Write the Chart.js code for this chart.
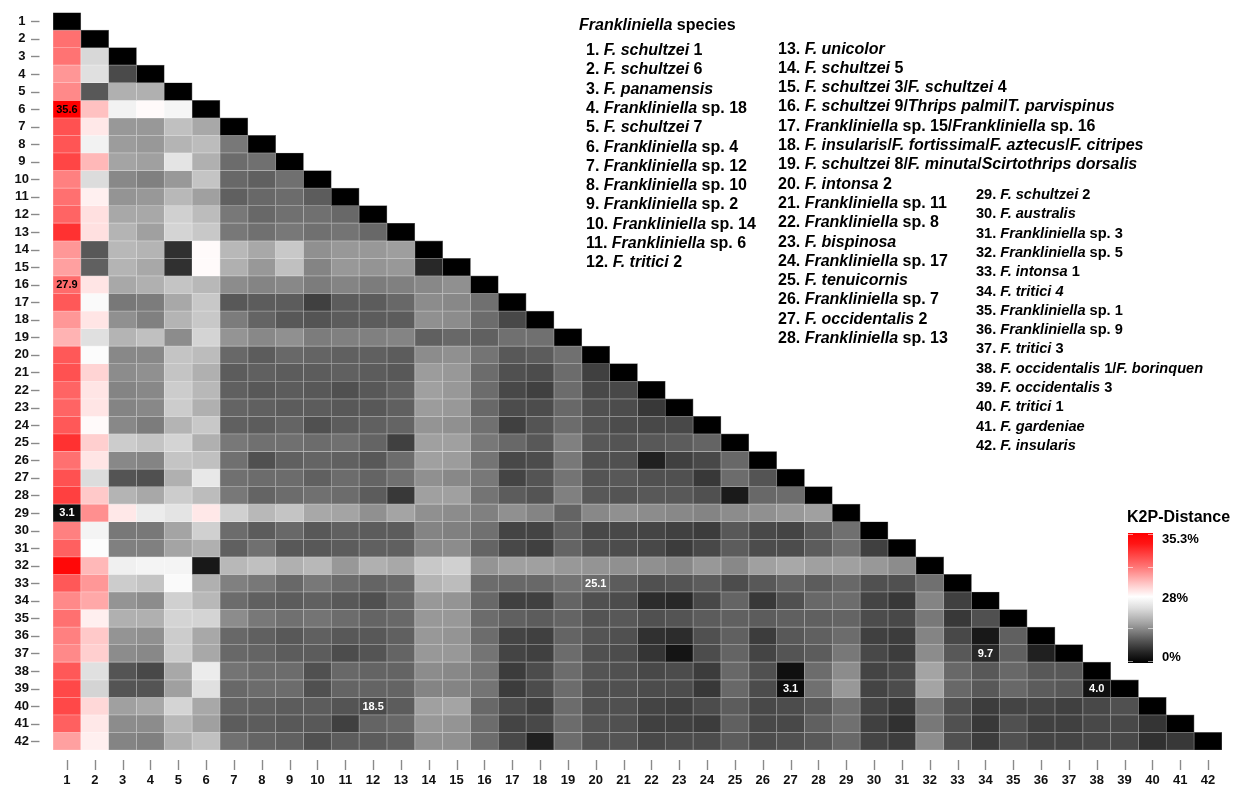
<!DOCTYPE html>
<html>
<head>
<meta charset="utf-8">
<title>K2P distances among Frankliniella species</title>
<script src="https://cdn.jsdelivr.net/npm/chart.js@4.4.1/dist/chart.umd.min.js"></script>
<style>
  html, body { margin: 0; padding: 0; background: #fff; }
  #wrap { position: relative; width: 1240px; height: 789px; overflow: hidden; }
  #heatmap { position: absolute; left: 0; top: 0; }
  .txt { position: absolute; font-family: "Liberation Sans", Arial, sans-serif; font-weight: bold;
         color: #000; white-space: nowrap; line-height: 20px; height: 20px; pointer-events: none; }
</style>
</head>
<body>
<div id="wrap">
  <canvas id="heatmap" width="1240" height="789"></canvas>
</div>
<script>
// ---- species (row/column order of the matrix) ----
const speciesNumbers = Array.from({ length: 42 }, (_, i) => i + 1);
const speciesNames = [
  "*F. schultzei* 1", "*F. schultzei* 6", "*F. panamensis*", "*Frankliniella* sp. 18",
  "*F. schultzei* 7", "*Frankliniella* sp. 4", "*Frankliniella* sp. 12", "*Frankliniella* sp. 10",
  "*Frankliniella* sp. 2", "*Frankliniella* sp. 14", "*Frankliniella* sp. 6", "*F. tritici* 2",
  "*F. unicolor*", "*F. schultzei* 5", "*F. schultzei* 3/*F. schultzei* 4",
  "*F. schultzei* 9/*Thrips palmi*/*T. parvispinus*", "*Frankliniella* sp. 15/*Frankliniella* sp. 16",
  "*F. insularis*/*F. fortissima*/*F. aztecus*/*F. citripes*",
  "*F. schultzei* 8/*F. minuta*/*Scirtothrips dorsalis*", "*F. intonsa* 2",
  "*Frankliniella* sp. 11", "*Frankliniella* sp. 8", "*F. bispinosa*", "*Frankliniella* sp. 17",
  "*F. tenuicornis*", "*Frankliniella* sp. 7", "*F. occidentalis* 2", "*Frankliniella* sp. 13",
  "*F. schultzei* 2", "*F. australis*", "*Frankliniella* sp. 3", "*Frankliniella* sp. 5",
  "*F. intonsa* 1", "*F. tritici 4*", "*Frankliniella* sp. 1", "*Frankliniella* sp. 9",
  "*F. tritici* 3", "*F. occidentalis* 1/*F. borinquen*", "*F. occidentalis* 3", "*F. tritici* 1",
  "*F. gardeniae*", "*F. insularis*"
];

// ---- pairwise K2P distances (%), lower triangle, row i holds columns 1..i ----
const distanceRows = [
  [0],
  [27.87, 0],
  [27.85, 26.5, 0],
  [27.64, 26.6, 18.5, 0],
  [27.72, 22.0, 25.98, 25.98, 0],
  [35.6, 27.38, 26.83, 27.03, 26.87, 0],
  [29.8, 27.14, 25.67, 25.67, 26.19, 25.88, 0],
  [29.5, 26.83, 25.72, 25.67, 26.03, 26.14, 25.26, 0],
  [30.6, 27.43, 25.83, 25.77, 26.65, 25.98, 25.10, 25.15, 0],
  [27.77, 26.55, 25.46, 25.36, 25.67, 26.24, 25.05, 24.0, 25.15, 0],
  [27.87, 27.09, 25.62, 25.67, 26.08, 25.77, 24.0, 25.05, 25.10, 23.0, 0],
  [28.4, 27.19, 25.88, 25.88, 26.39, 26.14, 25.26, 25.05, 25.15, 25.15, 25.05, 0],
  [32.1, 27.19, 26.03, 25.77, 26.45, 26.29, 25.26, 25.15, 25.26, 25.15, 25.21, 25.05, 0],
  [27.63, 22.0, 26.08, 26.03, 12.0, 27.03, 26.08, 25.88, 26.29, 25.57, 25.67, 25.67, 25.75, 0],
  [27.58, 24.0, 26.03, 25.88, 12.0, 27.03, 25.98, 25.67, 26.19, 25.41, 25.67, 25.62, 25.67, 10.0, 0],
  [27.9, 27.16, 25.88, 25.98, 26.24, 26.08, 25.52, 25.41, 25.46, 25.31, 25.41, 25.31, 25.36, 25.46, 25.57, 0],
  [29.3, 26.94, 25.26, 25.31, 25.88, 26.29, 22.0, 23.0, 23.0, 16.0, 23.0, 23.0, 25.05, 25.52, 25.46, 25.15, 0],
  [27.63, 27.16, 25.57, 25.36, 26.03, 26.29, 25.31, 25.0, 22.0, 21.0, 23.0, 23.0, 23.0, 25.57, 25.52, 25.10, 18.0, 0],
  [27.46, 26.6, 26.03, 26.19, 25.52, 26.45, 25.62, 25.46, 25.57, 25.31, 25.36, 25.36, 25.41, 24.0, 25.05, 24.0, 25.15, 25.15, 0],
  [29.3, 26.96, 25.46, 25.46, 26.24, 26.14, 25.05, 23.0, 25.05, 25.0, 24.0, 24.0, 23.0, 25.52, 25.57, 25.21, 22.0, 23.0, 25.15, 0],
  [29.8, 27.26, 25.52, 25.57, 26.24, 25.98, 23.0, 24.0, 23.0, 23.0, 24.0, 23.0, 22.0, 25.72, 25.67, 25.10, 20.0, 19.0, 25.10, 16.0, 0],
  [28.4, 27.16, 25.41, 25.46, 26.34, 26.08, 24.0, 22.0, 23.0, 22.0, 20.0, 22.0, 24.0, 25.77, 25.67, 25.10, 18.0, 16.0, 25.10, 18.0, 18.0, 0],
  [28.4, 27.16, 25.41, 25.46, 26.34, 25.98, 25.0, 24.0, 23.0, 23.0, 22.0, 22.0, 24.0, 25.72, 25.67, 25.05, 19.0, 19.0, 25.05, 20.0, 19.0, 14.0, 0],
  [29.3, 27.03, 25.46, 25.31, 26.03, 26.29, 24.0, 23.0, 25.0, 20.0, 23.0, 24.0, 25.0, 25.62, 25.57, 25.15, 16.0, 21.0, 25.10, 21.0, 19.0, 18.0, 18.0, 0],
  [32.1, 27.29, 26.34, 26.24, 26.45, 25.98, 25.26, 25.15, 25.15, 25.10, 25.15, 25.0, 16.0, 25.77, 25.77, 25.26, 25.05, 22.0, 25.36, 22.0, 21.0, 22.0, 23.0, 25.0, 0],
  [27.87, 27.16, 25.46, 25.41, 26.24, 26.19, 25.15, 20.0, 24.0, 25.0, 24.0, 22.0, 25.10, 25.77, 25.72, 25.21, 18.0, 19.0, 25.26, 20.0, 20.0, 8.0, 16.0, 18.0, 25.05, 0],
  [29.8, 26.55, 21.0, 20.0, 25.98, 26.7, 25.15, 25.10, 25.10, 24.0, 25.10, 25.0, 25.15, 25.57, 25.46, 25.26, 17.0, 21.0, 25.21, 21.0, 22.0, 20.0, 20.0, 14.0, 25.10, 21.0, 0],
  [31.0, 27.33, 26.03, 25.88, 26.34, 26.14, 25.26, 25.0, 25.10, 25.15, 25.10, 23.0, 14.0, 25.77, 25.77, 25.21, 23.0, 21.0, 25.36, 22.0, 21.0, 22.0, 22.0, 20.0, 6.5, 25.05, 25.10, 0],
  [3.1, 27.68, 27.14, 26.75, 26.65, 27.14, 26.39, 26.08, 26.24, 25.88, 25.83, 25.57, 25.83, 25.57, 25.52, 25.36, 25.57, 25.41, 25.0, 25.46, 25.57, 25.52, 25.46, 25.41, 25.52, 25.57, 25.67, 25.77, 0],
  [27.77, 26.86, 25.26, 25.26, 25.83, 26.39, 25.10, 23.0, 25.05, 22.0, 24.0, 23.0, 23.0, 25.41, 25.36, 25.15, 17.0, 17.0, 24.0, 18.0, 18.0, 17.0, 16.0, 15.0, 22.0, 18.0, 17.0, 22.0, 25.15, 0],
  [28.7, 26.96, 25.36, 25.36, 25.83, 25.98, 24.0, 25.15, 22.0, 22.0, 23.0, 24.0, 24.0, 25.46, 25.52, 25.0, 18.0, 16.0, 25.0, 20.0, 19.0, 18.0, 15.0, 18.0, 23.0, 19.0, 19.0, 23.0, 25.15, 16.0, 0],
  [35.0, 27.43, 26.81, 26.86, 26.86, 6.0, 26.08, 26.19, 25.98, 26.08, 25.67, 25.98, 25.88, 26.29, 26.39, 25.62, 25.77, 25.77, 25.67, 25.62, 25.57, 25.57, 25.46, 25.67, 25.46, 25.77, 25.88, 25.77, 25.77, 25.67, 25.52, 0],
  [29.3, 27.63, 26.34, 26.24, 26.94, 25.98, 25.36, 25.26, 25.05, 25.26, 25.10, 25.0, 25.05, 26.03, 26.14, 25.10, 25.05, 25.05, 25.21, 25.1, 23.0, 20.0, 21.0, 23.0, 19.0, 22.0, 25.0, 23.0, 25.05, 20.0, 20.0, 25.15, 0],
  [27.72, 27.53, 25.62, 25.52, 26.39, 26.08, 25.10, 24.0, 23.0, 24.0, 22.0, 20.0, 25.0, 25.67, 25.62, 25.05, 16.0, 16.0, 25.0, 20.0, 19.0, 11.0, 10.0, 18.0, 25.0, 14.0, 20.0, 25.05, 25.10, 17.0, 14.0, 25.41, 16.0, 0],
  [27.87, 27.10, 25.98, 25.98, 26.45, 26.45, 25.52, 25.26, 25.15, 25.21, 25.10, 25.0, 25.05, 25.67, 25.67, 25.10, 24.0, 23.0, 25.0, 21.0, 22.0, 20.0, 21.0, 23.0, 24.0, 23.0, 24.0, 24.0, 25.0, 19.0, 18.0, 25.26, 14.0, 20.0, 0],
  [27.77, 27.33, 25.62, 25.57, 26.34, 25.88, 25.05, 24.0, 22.0, 24.0, 22.0, 22.0, 24.0, 25.67, 25.62, 25.10, 17.0, 16.0, 25.0, 21.0, 20.0, 12.0, 11.0, 20.0, 24.0, 15.0, 22.0, 24.0, 25.10, 16.0, 15.0, 25.41, 18.0, 6.0, 24.0, 0],
  [27.72, 27.29, 25.52, 25.46, 26.34, 25.88, 25.05, 25.0, 23.0, 23.0, 19.0, 21.0, 25.0, 25.67, 25.67, 25.21, 17.0, 16.0, 25.10, 20.0, 19.0, 13.0, 5.0, 19.0, 25.0, 17.0, 21.0, 23.0, 25.26, 18.0, 15.0, 25.52, 22.0, 9.7, 24.0, 8.0, 0],
  [29.3, 26.6, 21.0, 18.0, 25.88, 26.75, 25.21, 25.10, 25.10, 20.0, 25.05, 25.0, 25.0, 25.52, 25.46, 25.21, 15.0, 19.0, 25.10, 21.0, 20.0, 18.0, 19.0, 15.0, 25.05, 20.0, 4.0, 25.10, 25.52, 17.0, 18.0, 25.83, 25.05, 22.0, 25.05, 22.0, 22.0, 0],
  [30.4, 26.45, 21.0, 21.0, 25.77, 26.6, 25.05, 25.10, 25.10, 20.0, 25.0, 25.0, 25.0, 25.41, 25.41, 25.21, 15.0, 19.0, 25.10, 20.0, 20.0, 19.0, 19.0, 14.0, 25.05, 19.0, 3.1, 25.15, 25.67, 17.0, 19.0, 25.83, 25.05, 22.0, 25.05, 23.0, 22.0, 4.0, 0],
  [30.4, 27.24, 25.77, 25.88, 26.45, 25.88, 25.0, 24.0, 23.0, 23.0, 21.0, 18.5, 23.0, 25.77, 25.83, 25.05, 19.0, 16.0, 25.10, 20.0, 20.0, 17.0, 16.0, 19.0, 23.0, 18.0, 19.0, 22.0, 25.15, 17.0, 14.0, 25.26, 20.0, 15.0, 17.0, 17.0, 16.0, 18.0, 20.0, 0],
  [28.7, 27.14, 25.52, 25.52, 26.08, 25.77, 23.0, 23.0, 22.0, 22.0, 16.0, 25.0, 25.05, 25.67, 25.62, 25.10, 17.0, 18.0, 25.10, 21.0, 20.0, 16.0, 16.0, 15.0, 24.0, 18.0, 18.0, 24.0, 25.15, 16.0, 12.0, 25.26, 20.0, 14.0, 20.0, 16.0, 16.0, 18.0, 18.0, 13.0, 0],
  [27.58, 27.10, 25.41, 25.36, 25.98, 26.19, 25.15, 25.0, 24.0, 20.0, 23.0, 23.0, 24.0, 25.57, 25.57, 25.10, 18.0, 8.0, 25.10, 21.0, 21.0, 18.0, 19.0, 19.0, 23.0, 19.0, 20.0, 22.0, 25.05, 17.0, 15.0, 25.52, 20.0, 15.0, 20.0, 17.0, 17.0, 18.0, 18.0, 12.0, 14.0, 0]
];

// cells whose distance is printed on the map: [row, column]
const annotatedCells = [[6, 1], [16, 1], [29, 1], [33, 20], [40, 12], [37, 34], [39, 27], [39, 38]];

// colour scale: distance (%) -> rgb
const colorStops = [
  [0, [0, 0, 0]],
  [25, [100, 100, 100]],
  [27, [255, 255, 255]],
  [27.9, [255, 107, 107]],
  [35.6, [255, 0, 0]]
];
const legendLabels = ["35.3%", "28%", "0%"];

function distanceRGB(v) {
  if (v <= colorStops[0][0]) return colorStops[0][1];
  for (let i = 1; i < colorStops.length; i++) {
    const [v1, c1] = colorStops[i];
    const [v0, c0] = colorStops[i - 1];
    if (v <= v1) {
      const t = (v - v0) / (v1 - v0);
      return c0.map((a, k) => Math.round(a + (c1[k] - a) * t));
    }
  }
  return colorStops[colorStops.length - 1][1];
}
const rgbStr = c => `rgb(${c[0]},${c[1]},${c[2]})`;
const cellFill = v => rgbStr(distanceRGB(v));
const cellEdge = v => rgbStr(distanceRGB(v).map(a => Math.round(a + (255 - a) * 0.42)));
const labelInk = v => {
  const [r, g, b] = distanceRGB(v);
  if (r - g > 30) return "#000";           // red / pink cells
  return (0.3 * r + 0.59 * g + 0.11 * b) > 110 ? "#000" : "#fff";
};

// ---- species key (HTML text) ----
const wrap = document.getElementById("wrap");
function richName(s) {
  return s.replace(/\*([^*]+)\*/g, "<i>$1</i>");
}
function addText(html, x, y, size) {
  const d = document.createElement("div");
  d.className = "txt";
  d.style.left = x + "px";
  d.style.top = (y - 10) + "px";
  d.style.fontSize = size + "px";
  d.innerHTML = html;
  wrap.appendChild(d);
}
addText("<i>Frankliniella</i> species", 579, 25, 16);
const keyColumns = [
  { from: 1, to: 12, x: 586, y: 50, size: 16 },
  { from: 13, to: 28, x: 778, y: 48.5, size: 16 },
  { from: 29, to: 42, x: 976, y: 194, size: 14.6 }
];
keyColumns.forEach(col => {
  for (let n = col.from; n <= col.to; n++) {
    addText(n + ". " + richName(speciesNames[n - 1]), col.x, col.y + (n - col.from) * 19.3, col.size);
  }
});

// ---- heatmap: one floating-bar dataset per matrix row ----
const datasets = distanceRows.map((row, r) => ({
  data: row.map(() => [r + 0.5, r + 1.5]),
  backgroundColor: row.map(cellFill),
  borderColor: row.map(cellEdge),
  borderWidth: 0.7,
  borderSkipped: false,
  grouped: false,
  barPercentage: 1,
  categoryPercentage: 1
}));

const axisFont = { family: "'Liberation Sans', Arial, sans-serif", size: 13, weight: "bold" };

const decorations = {
  id: "decorations",
  afterDatasetsDraw(chart) {
    const { ctx } = chart;
    const xs = chart.scales.x, ys = chart.scales.y;
    ctx.save();
    ctx.font = "bold 11px 'Liberation Sans', Arial, sans-serif";
    ctx.textAlign = "center";
    ctx.textBaseline = "middle";
    annotatedCells.forEach(([r, c]) => {
      const v = distanceRows[r - 1][c - 1];
      ctx.fillStyle = labelInk(v);
      ctx.fillText(v.toFixed(1), xs.getPixelForValue(c - 1), ys.getPixelForValue(r) + 0.5);
    });
    ctx.restore();
  },
  afterDraw(chart) {
    const { ctx } = chart;
    const xs = chart.scales.x, ys = chart.scales.y;
    ctx.save();
    // tick marks
    ctx.strokeStyle = "#8a8a8a";
    ctx.lineWidth = 1.4;
    speciesNumbers.forEach(n => {
      const py = Math.round(ys.getPixelForValue(n)) + 0.5;
      ctx.beginPath(); ctx.moveTo(31, py); ctx.lineTo(39.5, py); ctx.stroke();
      const px = Math.round(xs.getPixelForValue(n - 1)) + 0.5;
      ctx.beginPath(); ctx.moveTo(px, 760); ctx.lineTo(px, 770); ctx.stroke();
    });

    // colour bar
    const bx = 1128, by = 533, bw = 25, bh = 130;
    const g = ctx.createLinearGradient(0, by, 0, by + bh);
    g.addColorStop(0, "#ff0000");
    g.addColorStop(0.08, "#ff1414");
    g.addColorStop(0.25, "#ff7070");
    g.addColorStop(0.40, "#ffcccc");
    g.addColorStop(0.49, "#ffffff");
    g.addColorStop(0.58, "#dcdcdc");
    g.addColorStop(0.70, "#a0a0a0");
    g.addColorStop(0.82, "#5a5a5a");
    g.addColorStop(0.92, "#242424");
    g.addColorStop(1, "#000000");
    ctx.fillStyle = g;
    ctx.fillRect(bx, by, bw, bh);
    ctx.strokeStyle = "rgba(255,255,255,0.55)";
    ctx.lineWidth = 1;
    [by + 1.5, by + 34.5, by + 95.5, by + bh - 1.5].forEach(ty => {
      ctx.beginPath(); ctx.moveTo(bx, ty); ctx.lineTo(bx + 5, ty); ctx.stroke();
      ctx.beginPath(); ctx.moveTo(bx + bw - 5, ty); ctx.lineTo(bx + bw, ty); ctx.stroke();
    });
    ctx.fillStyle = "#000";
    ctx.textAlign = "left";
    ctx.textBaseline = "middle";
    ctx.font = "bold 16px 'Liberation Sans', Arial, sans-serif";
    ctx.fillText("K2P-Distance", 1127, 518);
    ctx.font = "bold 13px 'Liberation Sans', Arial, sans-serif";
    const labelY = [539, 598, 657];
    legendLabels.forEach((t, i) => ctx.fillText(t, 1162, labelY[i]));
    ctx.restore();
  }
};

new Chart(document.getElementById("heatmap"), {
  type: "bar",
  data: { labels: speciesNumbers.map(String), datasets },
  options: {
    responsive: false,
    animation: false,
    events: [],
    layout: { padding: { top: 12.5, right: 18, bottom: 0, left: 0 } },
    plugins: { legend: { display: false }, tooltip: { enabled: false } },
    scales: {
      x: {
        type: "category",
        grid: { display: false, drawTicks: false },
        border: { display: false },
        ticks: { font: axisFont, color: "#111", padding: 23, autoSkip: false, maxRotation: 0 },
        afterFit(s) { s.height = 39; s.paddingLeft = 0; s.paddingRight = 0; }
      },
      y: {
        type: "linear",
        reverse: true,
        min: 0.5,
        max: 42.5,
        grid: { display: false, drawTicks: false },
        border: { display: false },
        afterBuildTicks(s) { s.ticks = speciesNumbers.map(n => ({ value: n })); },
        ticks: { font: axisFont, color: "#111", padding: 24, crossAlign: "center",
                 autoSkip: false, callback: v => String(v) },
        afterFit(s) { s.width = 53; s.paddingTop = 0; s.paddingBottom = 0; }
      }
    }
  },
  plugins: [decorations]
});
</script>
</body>
</html>
